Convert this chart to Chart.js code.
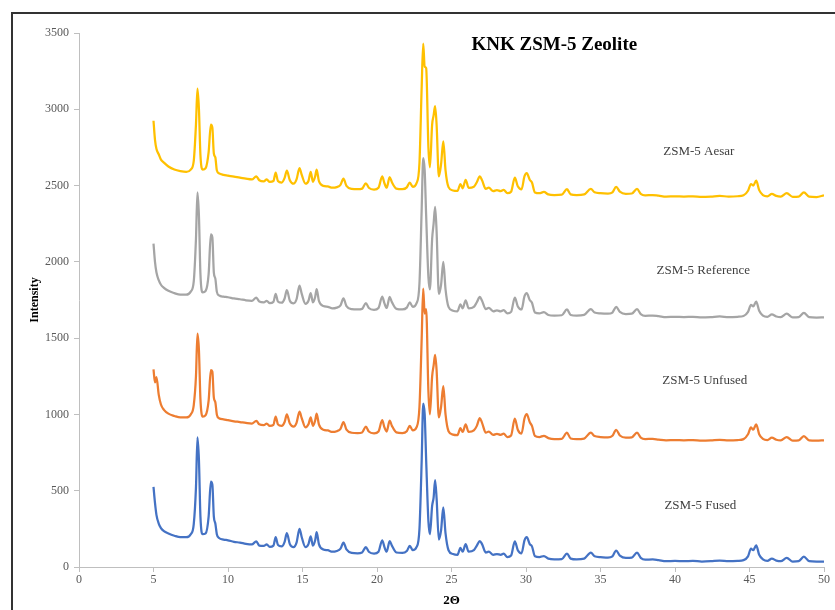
<!DOCTYPE html>
<html>
<head>
<meta charset="utf-8">
<script src="https://cdn.jsdelivr.net/npm/chart.js@4.4.1/dist/chart.umd.min.js"></script>
<style>
  html, body { margin: 0; padding: 0; background: #fff; }
  #wrap { position: relative; width: 835px; height: 610px; }
</style>
</head>
<body>
<div id="wrap"><canvas id="xrd" width="835" height="610"></canvas></div>
<script>
// 2-theta positions shared by all four patterns
const twoTheta = [
  5.0, 5.1, 5.2, 5.35, 5.5, 5.7, 6.0, 6.4, 6.8, 7.2, 7.5, 7.7, 7.85, 7.95, 8.05, 8.15, 8.3, 8.5, 8.7, 8.85,
  8.95, 9.05, 9.15, 9.25, 9.4, 9.7, 10.0, 10.4, 10.8, 11.2, 11.6, 11.9, 12.1, 12.4, 12.6, 12.8, 13.05, 13.2, 13.35, 13.6,
  13.8, 13.95, 14.15, 14.4, 14.6, 14.8, 14.95, 15.2, 15.4, 15.55, 15.7, 15.85, 15.95, 16.1, 16.4, 16.7, 17.0, 17.3, 17.55, 17.75,
  17.95, 18.3, 18.7, 19.0, 19.25, 19.45, 19.8, 20.1, 20.35, 20.5, 20.65, 20.85, 21.0, 21.3, 21.7, 22.0, 22.2, 22.4, 22.65, 22.85,
  23.0, 23.1, 23.2, 23.3, 23.45, 23.55, 23.7, 23.8, 23.9, 24.0, 24.15, 24.3, 24.45, 24.6, 24.8, 25.1, 25.4, 25.6, 25.75, 25.95,
  26.15, 26.5, 26.7, 26.9, 27.05, 27.3, 27.5, 27.8, 28.05, 28.3, 28.5, 28.75, 29.0, 29.25, 29.45, 29.7, 29.9, 30.05, 30.25, 30.4,
  30.6, 30.9, 31.2, 31.5, 31.9, 32.4, 32.75, 33.0, 33.4, 33.9, 34.35, 34.6, 35.0, 35.5, 35.8, 36.05, 36.3, 36.7, 37.1, 37.45,
  37.7, 38.0, 38.5, 38.9, 39.4, 40.0, 40.6, 41.2, 41.8, 42.4, 43.0, 43.6, 44.2, 44.6, 44.9, 45.1, 45.25, 45.45, 45.65, 45.9,
  46.2, 46.5, 46.8, 47.1, 47.5, 47.9, 48.3, 48.65, 49.0, 49.5, 50.0
];

const aesar = [
  2925, 2800, 2740, 2705, 2670, 2650, 2625, 2605, 2595, 2590, 2605, 2660, 2900, 3135, 3000, 2700, 2605, 2615, 2720, 2900,
  2880, 2710, 2685, 2600, 2580, 2570, 2565, 2558, 2552, 2545, 2540, 2560, 2535, 2528, 2540, 2524, 2530, 2585, 2530, 2520,
  2550, 2598, 2535, 2512, 2540, 2615, 2570, 2512, 2530, 2590, 2525, 2560, 2605, 2530, 2498, 2494, 2486, 2490, 2505, 2545,
  2498, 2478, 2476, 2480, 2515, 2486, 2474, 2486, 2560, 2515, 2486, 2555, 2522, 2480, 2476, 2488, 2520, 2492, 2515, 2650,
  3150, 3430, 3280, 3270, 2750, 2620, 2900, 2960, 3020, 2900, 2560, 2640, 2790, 2600, 2490, 2468, 2465, 2510, 2482, 2538,
  2485, 2492, 2522, 2560, 2535, 2478, 2486, 2464, 2470, 2464, 2472, 2450, 2460, 2552, 2495, 2475, 2562, 2582, 2538, 2520,
  2455, 2450, 2458, 2442, 2438, 2440, 2476, 2442, 2438, 2442, 2478, 2456, 2450, 2448, 2456, 2492, 2460, 2446, 2448, 2478,
  2446, 2436, 2438, 2434, 2428, 2430, 2428, 2430, 2426, 2428, 2432, 2428, 2430, 2436, 2466, 2510, 2500, 2532, 2470, 2438,
  2430, 2446, 2432, 2428, 2450, 2426, 2428, 2455, 2428, 2425, 2436
];

const reference = [
  2120, 2000, 1930, 1880, 1850, 1830, 1810, 1795, 1785, 1785, 1805, 1870, 2150, 2455, 2300, 1920, 1800, 1810, 1920, 2180,
  2160, 1930, 1890, 1805, 1780, 1772, 1768, 1760, 1755, 1748, 1745, 1765, 1740, 1735, 1745, 1730, 1738, 1790, 1740, 1732,
  1760, 1815, 1745, 1728, 1755, 1845, 1790, 1725, 1745, 1795, 1735, 1770, 1822, 1745, 1710, 1705, 1695, 1700, 1715, 1760,
  1710, 1690, 1688, 1692, 1730, 1698, 1686, 1698, 1772, 1728, 1698, 1770, 1736, 1692, 1688, 1700, 1735, 1705, 1728, 1860,
  2350, 2680, 2600, 2300, 1900, 1820, 2150, 2250, 2360, 2200, 1790, 1850, 2000, 1820, 1705, 1680, 1676, 1722, 1695, 1748,
  1695, 1705, 1735, 1770, 1745, 1690, 1698, 1676, 1682, 1676, 1684, 1662, 1672, 1765, 1708, 1688, 1775, 1795, 1750, 1732,
  1668, 1662, 1670, 1652, 1648, 1650, 1688, 1652, 1648, 1652, 1690, 1668, 1662, 1660, 1668, 1705, 1672, 1658, 1660, 1690,
  1658, 1646, 1648, 1644, 1638, 1640, 1638, 1640, 1636, 1638, 1642, 1638, 1640, 1645, 1672, 1718, 1708, 1740, 1680, 1648,
  1640, 1655, 1642, 1638, 1660, 1636, 1638, 1665, 1638, 1635, 1636
];

const unfused = [
  1295, 1210, 1245, 1130, 1065, 1030, 1005, 990, 980, 980, 1000, 1060, 1250, 1530, 1420, 1100, 985, 995, 1090, 1290,
  1280, 1110, 1080, 1000, 975, 968, 962, 955, 950, 944, 940, 958, 935, 930, 940, 925, 932, 985, 935, 925,
  950, 1000, 940, 920, 945, 1018, 975, 915, 935, 980, 925, 960, 1005, 935, 900, 895, 885, 890, 905, 950,
  900, 880, 878, 882, 920, 888, 876, 888, 962, 915, 888, 960, 925, 882, 878, 890, 925, 895, 915, 1050,
  1500, 1825, 1660, 1690, 1150, 1000, 1250, 1320, 1390, 1290, 980, 1050, 1185, 1000, 890, 868, 865, 910, 885, 935,
  885, 895, 925, 975, 945, 880, 888, 866, 872, 866, 874, 852, 862, 972, 900, 875, 975, 1002, 950, 925,
  860, 852, 860, 845, 838, 840, 880, 842, 838, 842, 880, 858, 852, 850, 860, 898, 862, 848, 850, 880,
  848, 838, 840, 835, 830, 832, 830, 832, 828, 830, 834, 830, 832, 838, 870, 915, 900, 935, 870, 840,
  832, 848, 834, 830, 852, 828, 830, 858, 830, 828, 830
];

const fused = [
  525, 420, 340, 285, 255, 235, 220, 205, 195, 195, 215, 280, 520, 850, 700, 330, 215, 220, 330, 560,
  540, 330, 285, 215, 190, 180, 175, 165, 160, 152, 148, 168, 140, 138, 148, 132, 140, 195, 145, 135,
  165, 222, 150, 130, 160, 250, 195, 130, 150, 200, 140, 175, 228, 150, 115, 110, 100, 105, 120, 160,
  115, 92, 90, 95, 130, 100, 88, 100, 175, 130, 100, 170, 140, 95, 92, 105, 138, 110, 130, 250,
  700, 1070, 1000, 700, 300, 215, 400, 455, 570, 450, 180, 240, 390, 220, 110, 85, 80, 125, 100, 150,
  100, 110, 140, 170, 150, 95, 100, 80, 85, 80, 88, 65, 75, 168, 110, 90, 175, 195, 150, 135,
  70, 65, 72, 55, 50, 52, 88, 55, 50, 55, 95, 70, 65, 62, 70, 108, 75, 60, 62, 95,
  60, 48, 50, 45, 38, 40, 38, 40, 36, 38, 42, 38, 40, 45, 70, 120, 110, 142, 80, 50,
  40, 55, 42, 38, 60, 35, 38, 68, 38, 35, 36
];

const seriesNames = ['ZSM-5 Aesar', 'ZSM-5 Reference', 'ZSM-5 Unfused', 'ZSM-5 Fused'];
const seriesColors = ['#FFC000', '#A5A5A5', '#ED7D31', '#4472C4'];
const seriesValues = [aesar, reference, unfused, fused];

// where the series names sit, in data units (2θ, intensity)
const labelX = [41.6, 41.9, 42.0, 41.7];
const labelY = [2720, 1946, 1219, 400];

const chartTitle = 'KNK ZSM-5 Zeolite';

const serif = "'Liberation Serif', 'Times New Roman', serif";

function toPoints(vals) {
  return twoTheta.map((t, i) => ({ x: t, y: vals[i] }));
}

// frame round the whole figure + text annotations
const decorPlugin = {
  id: 'decor',
  afterDraw(chart) {
    const ctx = chart.ctx;
    const xs = chart.scales.x;
    const ys = chart.scales.y;
    ctx.save();
    ctx.strokeStyle = '#333333';
    ctx.lineWidth = 2;
    ctx.beginPath();
    ctx.moveTo(12, 612);
    ctx.lineTo(12, 13);
    ctx.lineTo(837, 13);
    ctx.stroke();

    ctx.textAlign = 'center';
    ctx.textBaseline = 'middle';
    ctx.fillStyle = '#000000';
    ctx.font = 'bold 19px ' + serif;
    ctx.fillText(chartTitle, xs.getPixelForValue(31.9), ys.getPixelForValue(3421));

    ctx.fillStyle = '#404040';
    ctx.font = '13px ' + serif;
    seriesNames.forEach((name, i) => {
      ctx.fillText(name, xs.getPixelForValue(labelX[i]), ys.getPixelForValue(labelY[i]));
    });
    ctx.restore();
  }
};

const ctx = document.getElementById('xrd').getContext('2d');
new Chart(ctx, {
  type: 'line',
  data: {
    datasets: seriesNames.map((name, i) => ({
      label: name,
      data: toPoints(seriesValues[i]),
      borderColor: seriesColors[i],
      backgroundColor: seriesColors[i],
      borderWidth: 2.25,
      pointRadius: 0,
      fill: false,
      cubicInterpolationMode: 'monotone'
    }))
  },
  options: {
    responsive: false,
    animation: false,
    layout: { padding: { left: 20, right: 11, top: 33, bottom: 0 } },
    plugins: {
      legend: { display: false },
      tooltip: { enabled: false }
    },
    scales: {
      x: {
        type: 'linear',
        min: 0,
        max: 50,
        afterFit: (scale) => { scale.height = 43; },
        grid: {
          drawOnChartArea: false,
          drawTicks: true,
          tickLength: 5,
          color: '#BFBFBF'
        },
        border: { color: '#BFBFBF', width: 1 },
        ticks: {
          stepSize: 5,
          padding: 1,
          maxRotation: 0,
          color: '#595959',
          font: { family: serif, size: 12 }
        },
        title: {
          display: true,
          text: '2Θ',
          color: '#000000',
          padding: { top: 0, bottom: 2 },
          font: { family: serif, size: 13, weight: 'bold' }
        }
      },
      y: {
        min: 0,
        max: 3500,
        afterFit: (scale) => { scale.width = 59; },
        grid: {
          drawOnChartArea: false,
          drawTicks: true,
          tickLength: 5,
          color: '#BFBFBF'
        },
        border: { color: '#BFBFBF', width: 1 },
        ticks: {
          stepSize: 500,
          padding: 5,
          color: '#595959',
          font: { family: serif, size: 12 },
          callback: (v) => String(v)
        },
        title: {
          display: true,
          text: 'Intensity',
          color: '#000000',
          padding: { top: 8, bottom: 0 },
          font: { family: serif, size: 12, weight: 'bold' }
        }
      }
    }
  },
  plugins: [decorPlugin]
});
</script>
</body>
</html>
